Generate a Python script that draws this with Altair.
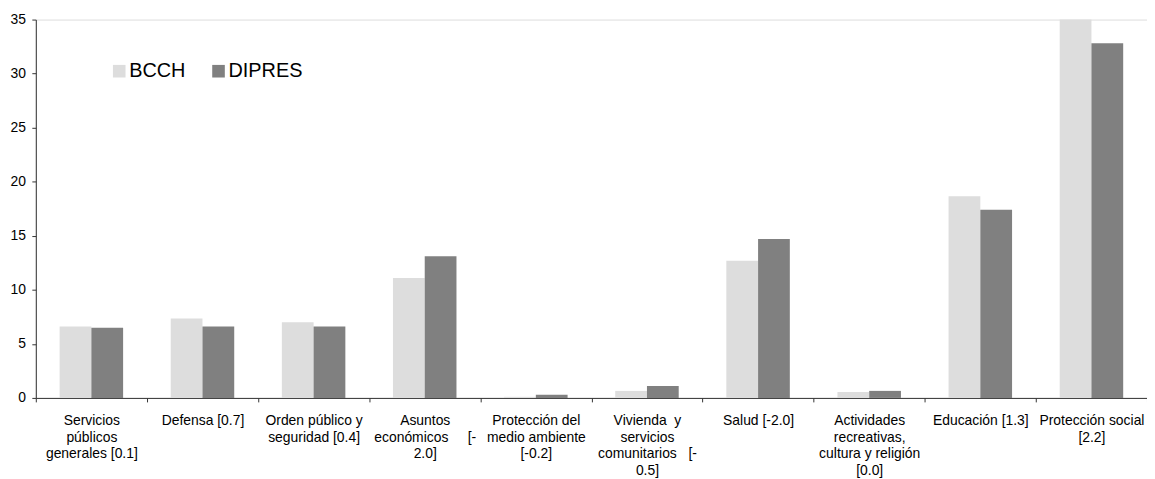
import altair as alt
import pandas as pd

NB = "\u00a0"
categories = [
    "Servicios\npúblicos\ngenerales [0.1]",
    "Defensa [0.7]",
    "Orden público y\nseguridad [0.4]",
    "Asuntos\neconómicos" + NB * 5 + "[-\n2.0]",
    "Protección del\nmedio ambiente\n[-0.2]",
    "Vivienda" + NB + " y\nservicios\ncomunitarios" + NB * 3 + "[-\n0.5]",
    "Salud [-2.0]",
    "Actividades\nrecreativas,\ncultura y religión\n[0.0]",
    "Educación [1.3]",
    "Protección social\n[2.2]",
]
bcch = [6.6, 7.35, 7.0, 11.1, 0.1, 0.65, 12.7, 0.55, 18.65, 35.0]
dipres = [6.5, 6.6, 6.6, 13.1, 0.3, 1.1, 14.7, 0.65, 17.4, 32.8]
series = ["BCCH", "DIPRES"]
colors = ["#DDDDDD", "#808080"]
y_ticks = [0, 5, 10, 15, 20, 25, 30, 35]

rows = []
for c, b, d in zip(categories, bcch, dipres):
    rows.append({"cat": c, "serie": "BCCH", "valor": b})
    rows.append({"cat": c, "serie": "DIPRES", "valor": d})
df = pd.DataFrame(rows)

FONT = "Liberation Sans"
AXC = "#333333"

chart = (
    alt.Chart(df)
    .mark_bar()
    .encode(
        x=alt.X(
            "cat:N",
            sort=categories,
            scale=alt.Scale(paddingInner=0, paddingOuter=0),
            axis=alt.Axis(
                title=None,
                labelAngle=0,
                labelAlign="center",
                labelBaseline="top",
                labelExpr="split(datum.label, '\\n')",
                labelFont=FONT,
                labelFontSize=14,
                labelLineHeight=16.7,
                labelColor="#000000",
                labelPadding=12,
                labelOverlap=False,
                labelLimit=300,
                tickBand="extent",
                tickSize=4,
                tickColor=AXC,
                domainColor=AXC,
                grid=False,
            ),
        ),
        xOffset=alt.XOffset(
            "serie:N",
            sort=series,
            scale=alt.Scale(paddingOuter=0.75, paddingInner=0),
        ),
        y=alt.Y(
            "valor:Q",
            scale=alt.Scale(domain=[0, 35], nice=False),
            axis=alt.Axis(
                title=None,
                values=y_ticks,
                labelFont=FONT,
                labelFontSize=14,
                labelColor="#000000",
                labelPadding=6.5,
                tickSize=4,
                tickColor=AXC,
                domainColor=AXC,
                grid=False,
            ),
        ),
        color=alt.Color(
            "serie:N",
            sort=series,
            scale=alt.Scale(domain=series, range=colors),
            legend=alt.Legend(
                title=None,
                orient="none",
                legendX=74,
                legendY=42,
                direction="horizontal",
                symbolType="square",
                symbolSize=161,
                symbolStrokeWidth=0,
                symbolOpacity=1,
                labelFont=FONT,
                labelFontSize=20,
                labelColor="#000000",
                labelOffset=0,
                columnPadding=23,
                padding=0,
            ),
        ),
    )
    .properties(
        width=1119,
        height=381,
        autosize=alt.AutoSizeParams(type="none"),
        padding={"left": 28, "top": 10, "right": 0, "bottom": 80},
    )
    .configure_view(stroke=None)
    .configure(background="white")
)

chart.save("out.html", embed_options={"renderer": "svg", "actions": False})
